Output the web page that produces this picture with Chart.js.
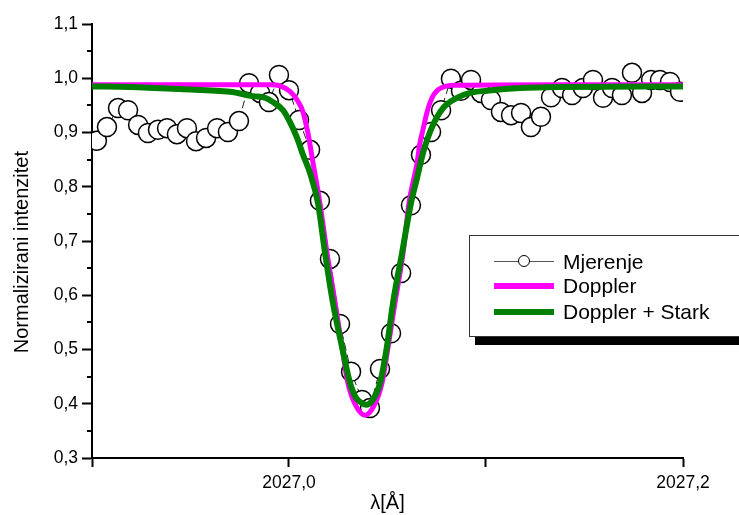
<!DOCTYPE html>
<html>
<head>
<meta charset="utf-8">
<script src="https://cdn.jsdelivr.net/npm/chart.js@4.4.0/dist/chart.umd.min.js"></script>
<style>
  body { margin: 0; background: #fff; }
  #wrap { position: relative; width: 739px; height: 515px; overflow: hidden; }
  #legend {
    position: absolute; left: 469px; top: 235px; width: 300px; height: 100px;
    border: 1px solid #333; background: #fff; box-shadow: 6px 8px 0 #000;
    font-family: 'Liberation Sans', Arial, sans-serif; font-size: 21px; color: #000;
  }
  .row { position: absolute; left: 0; height: 24px; line-height: 24px; padding-left: 93px; white-space: nowrap; }
  .sym { position: absolute; left: 24px; width: 60px; top: 50%; }
  .sym.meas { height: 1px; margin-top: -1px; background: #555; }
  .sym.meas i { position: absolute; left: 24px; top: -6px; width: 10px; height: 10px; border: 1px solid #000; border-radius: 50%; background: #fff; }
  .sym.dop { height: 6px; margin-top: -3px; background: #ff00ff; }
  .sym.stark { height: 6px; margin-top: -3px; background: #008000; }
</style>
</head>
<body>
<div id="wrap">
  <canvas id="spectrum" width="739" height="515"></canvas>
  <div id="legend">
    <div class="row" style="top:14px"><span class="sym meas"><i></i></span>Mjerenje</div>
    <div class="row" style="top:38px"><span class="sym dop"></span>Doppler</div>
    <div class="row" style="top:64px"><span class="sym stark"></span>Doppler + Stark</div>
  </div>
</div>
<script>
// measured profile (wavelength in Å, normalized intensity)
const measX = [2026.9025, 2026.9076, 2026.9132, 2026.9183, 2026.9234, 2026.9284, 2026.9335, 2026.9381, 2026.9431, 2026.9482,
  2026.9528, 2026.9579, 2026.9635, 2026.9690, 2026.9746, 2026.9797, 2026.9853, 2026.9898, 2026.9949, 2027.0000,
  2027.0051, 2027.0107, 2027.0157, 2027.0208, 2027.0259, 2027.0315, 2027.0371, 2027.0411, 2027.0462, 2027.0518,
  2027.0569, 2027.0619, 2027.0670, 2027.0721, 2027.0772, 2027.0822, 2027.0873, 2027.0924, 2027.0975, 2027.1025,
  2027.1076, 2027.1127, 2027.1178, 2027.1228, 2027.1279, 2027.1330, 2027.1386, 2027.1437, 2027.1492, 2027.1543,
  2027.1594, 2027.1640, 2027.1690, 2027.1741, 2027.1792, 2027.1838, 2027.1883, 2027.1934, 2027.1985];
const measY = [0.885, 0.910, 0.945, 0.941, 0.914, 0.899, 0.905, 0.908, 0.897, 0.908,
  0.884, 0.890, 0.908, 0.901, 0.921, 0.991, 0.973, 0.956, 1.006, 0.978,
  0.923, 0.868, 0.774, 0.667, 0.547, 0.459, 0.407, 0.392, 0.464, 0.530,
  0.641, 0.766, 0.859, 0.901, 0.941, 0.999, 0.977, 0.997, 0.973, 0.960,
  0.938, 0.932, 0.936, 0.910, 0.929, 0.965, 0.982, 0.969, 0.982, 0.997,
  0.964, 0.982, 0.969, 1.010, 0.973, 0.997, 0.997, 0.993, 0.975];

// Doppler fit
const dopX = [2026.9000, 2026.9548, 2026.9904, 2026.9954, 2027.0005, 2027.0041, 2027.0071, 2027.0096, 2027.0122, 2027.0157,
  2027.0193, 2027.0234, 2027.0269, 2027.0299, 2027.0340, 2027.0386, 2027.0431, 2027.0472, 2027.0503, 2027.0538,
  2027.0579, 2027.0609, 2027.0650, 2027.0665, 2027.0680, 2027.0701, 2027.0726, 2027.0751, 2027.0777, 2027.0827,
  2027.1376, 2027.2000];
const dopY = [0.988, 0.988, 0.988, 0.986, 0.976, 0.960, 0.938, 0.899, 0.844, 0.770,
  0.678, 0.586, 0.505, 0.438, 0.396, 0.379, 0.396, 0.438, 0.505, 0.586,
  0.678, 0.770, 0.844, 0.881, 0.905, 0.938, 0.964, 0.977, 0.983, 0.987,
  0.988, 0.988];

// Doppler + Stark fit
const starkX = [2026.9000, 2026.9193, 2026.9447, 2026.9701, 2026.9817, 2026.9878, 2026.9919, 2026.9970, 2027.0005, 2027.0041,
  2027.0071, 2027.0107, 2027.0147, 2027.0183, 2027.0223, 2027.0269, 2027.0310, 2027.0340, 2027.0371, 2027.0391,
  2027.0421, 2027.0462, 2027.0497, 2027.0528, 2027.0574, 2027.0619, 2027.0650, 2027.0680, 2027.0726, 2027.0782,
  2027.0853, 2027.0919, 2027.1005, 2027.1173, 2027.1376, 2027.2000];
const starkY = [0.985, 0.984, 0.980, 0.975, 0.967, 0.964, 0.956, 0.941, 0.919, 0.890,
  0.859, 0.825, 0.770, 0.678, 0.586, 0.505, 0.438, 0.411, 0.401, 0.398,
  0.405, 0.438, 0.505, 0.586, 0.678, 0.770, 0.816, 0.862, 0.910, 0.945,
  0.964, 0.973, 0.977, 0.982, 0.984, 0.985];

const xTicks = [2026.9, 2027.0, 2027.1, 2027.2];
const xLabeled = [2027.0, 2027.2];
const yTicks = [0.3, 0.4, 0.5, 0.6, 0.7, 0.8, 0.9, 1.0, 1.1];
const yMinor = [0.35, 0.45, 0.55, 0.65, 0.75, 0.85, 0.95, 1.05];

function pts(xs, ys) {
  return xs.map((x, i) => ({ x: x, y: ys[i] }));
}
function comma(v) {
  return v.toFixed(1).replace('.', ',');
}

Chart.defaults.font.family = "'Liberation Sans', Arial, sans-serif";
Chart.defaults.color = '#000';

const minorTicks = {
  id: 'minorTicks',
  afterDraw(chart) {
    const c = chart.ctx;
    const y = chart.scales.y;
    const left = chart.chartArea.left;
    c.save();
    c.strokeStyle = '#000';
    c.lineWidth = 2;
    yMinor.forEach(v => {
      const py = Math.round(y.getPixelForValue(v));
      c.beginPath();
      c.moveTo(left - 5, py);
      c.lineTo(left, py);
      c.stroke();
    });
    c.restore();
  }
};

new Chart(document.getElementById('spectrum').getContext('2d'), {
  type: 'line',
  data: {
    datasets: [
      {
        label: 'Doppler + Stark',
        data: pts(starkX, starkY),
        borderColor: '#008000',
        borderWidth: 6,
        pointRadius: 0,
        cubicInterpolationMode: 'monotone',
        order: 0,
        clip: 0
      },
      {
        label: 'Doppler',
        data: pts(dopX, dopY),
        borderColor: '#ff00ff',
        borderWidth: 5,
        pointRadius: 0,
        cubicInterpolationMode: 'monotone',
        order: 1,
        clip: 0
      },
      {
        label: 'Mjerenje',
        data: pts(measX, measY),
        borderColor: '#222',
        borderWidth: 1,
        borderDash: [8, 4],
        pointRadius: 9.5,
        pointBorderWidth: 1.5,
        pointBackgroundColor: '#fff',
        pointBorderColor: '#000',
        tension: 0,
        order: 2,
        clip: 0
      }
    ]
  },
  options: {
    responsive: false,
    animation: false,
    layout: { padding: { top: 24, right: 56, left: 0, bottom: 0 } },
    plugins: {
      legend: { display: false },
      tooltip: { enabled: false }
    },
    scales: {
      x: {
        type: 'linear',
        min: 2026.9,
        max: 2027.2,
        afterBuildTicks: axis => { axis.ticks = xTicks.map(v => ({ value: v })); },
        afterFit: axis => { axis.height = 57; },
        ticks: {
          autoSkip: false,
          maxRotation: 0,
          padding: 6,
          font: { size: 17.5 },
          callback: v => xLabeled.some(t => Math.abs(t - v) < 1e-6) ? comma(v) : ''
        },
        grid: { drawOnChartArea: false, tickLength: 9, tickWidth: 2, tickColor: '#000' },
        border: { color: '#000', width: 2 },
        title: { display: true, text: 'λ[Å]', font: { size: 20 }, padding: { top: 0, bottom: 0 } }
      },
      y: {
        type: 'linear',
        min: 0.3,
        max: 1.1,
        afterBuildTicks: axis => { axis.ticks = yTicks.map(v => ({ value: v })); },
        afterFit: axis => { axis.width = 92; },
        ticks: {
          padding: 4,
          font: { size: 17.5 },
          callback: v => comma(v)
        },
        grid: { drawOnChartArea: false, tickLength: 10, tickWidth: 2, tickColor: '#000' },
        border: { color: '#000', width: 2 },
        title: { display: true, text: 'Normalizirani intenzitet    ', font: { size: 20 }, padding: { top: 10, bottom: 0 } }
      }
    }
  },
  plugins: [minorTicks]
});
</script>
</body>
</html>
